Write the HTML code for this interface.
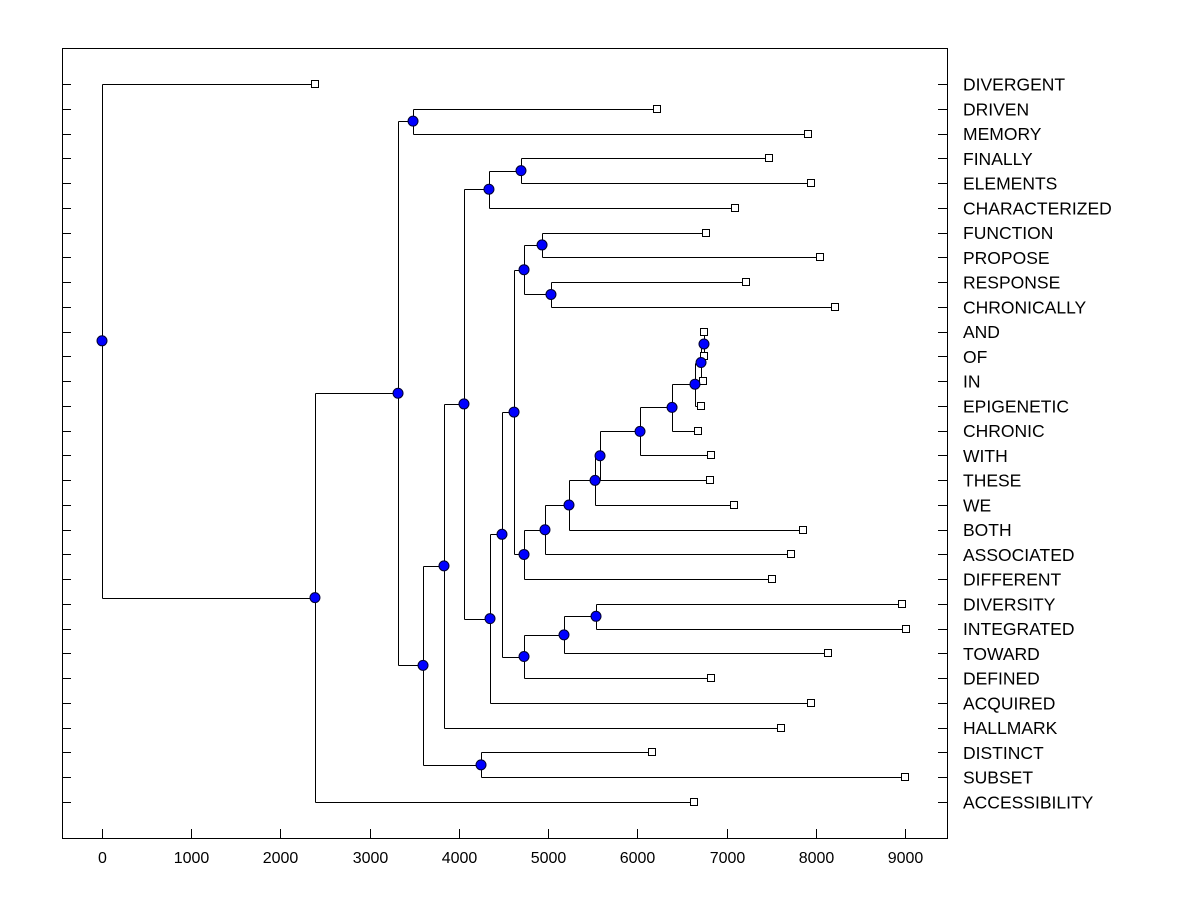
<!DOCTYPE html>
<html><head><meta charset="utf-8"><style>
html,body{margin:0;padding:0;background:#fff;}
svg{display:block;font-family:"Liberation Sans",sans-serif;}
</style></head><body>
<svg id="chart" width="1200" height="900" viewBox="0 0 1200 900">
<rect x="0" y="0" width="1200" height="900" fill="#fff"/>
<rect x="62.5" y="48.5" width="885" height="790" fill="none" stroke="#000" stroke-width="1"/>
<g id="ticks"></g>
<g id="links"></g>
<g id="marks"></g>
<g id="labels"></g>
</svg>
<script>
const leafLabels = ["DIVERGENT","DRIVEN","MEMORY","FINALLY","ELEMENTS","CHARACTERIZED","FUNCTION","PROPOSE","RESPONSE","CHRONICALLY","AND","OF","IN","EPIGENETIC","CHRONIC","WITH","THESE","WE","BOTH","ASSOCIATED","DIFFERENT","DIVERSITY","INTEGRATED","TOWARD","DEFINED","ACQUIRED","HALLMARK","DISTINCT","SUBSET","ACCESSIBILITY"];
const leafValues = [2387,6220,7913,7476,7946,7095,6770,8047,7218,8215,6747,6747,6736,6714,6680,6826,6814,7083,7857,7722,7509,8966,9011,8137,6826,7946,7610,6164,9000,6635];
const mergeLeft = [10,30,31,32,33,34,35,36,37,38,6,8,40,42,3,44,21,46,47,43,49,45,51,27,52,1,55,56,0];
const mergeRight = [11,12,13,14,15,16,17,18,19,20,7,9,41,39,4,5,22,23,24,48,25,50,26,28,53,2,54,29,57];
const mergeHeights = [6747,6714,6646,6389,6030,5582,5526,5234,4965,4730,4932,5032,4730,4618,4696,4337,5537,5178,4730,4483,4349,4057,3833,4248,3598,3486,3318,2387,0];
const xTicks = [0,1000,2000,3000,4000,5000,6000,7000,8000,9000];

const NS="http://www.w3.org/2000/svg";
const xScale = v => 102 + v*(803/9000);
const rowY = i => 84 + i*(718/29);
function mk(parent,tag,attrs){const e=document.createElementNS(NS,tag);for(const k in attrs)e.setAttribute(k,attrs[k]);parent.appendChild(e);return e;}
const gT=document.getElementById('ticks'),gL=document.getElementById('links'),gM=document.getElementById('marks'),gLab=document.getElementById('labels');

xTicks.forEach(t=>{
  const x=Math.round(xScale(t))+0.5;
  const l=mk(gT,'line',{x1:x,y1:829,x2:x,y2:838,stroke:'#000'});
  
  
  const tx=mk(gT,'text',{x:x,y:863,'text-anchor':'middle','font-size':'16',fill:'#000'});
  tx.textContent=t;
  
  
});
leafLabels.forEach((lab,i)=>{
  const y=Math.round(rowY(i))+0.5;
  const a=mk(gT,'line',{x1:62,y1:y,x2:71,y2:y,stroke:'#000'});
  
  
  const b=mk(gT,'line',{x1:938,y1:y,x2:947,y2:y,stroke:'#000'});
  
  
  const t=mk(gLab,'text',{x:963,y:rowY(i)+6.5,'font-size':'17.5',fill:'#000'});
  t.textContent=lab;
  
  
});

const N=leafLabels.length;
const nx=[],ny=[];
leafValues.forEach((v,i)=>{nx[i]=xScale(v);ny[i]=rowY(i);});
mergeHeights.forEach((h,k)=>{
  const a=mergeLeft[k],b=mergeRight[k],id=N+k;
  nx[id]=xScale(h);ny[id]=(ny[a]+ny[b])/2;
  const x=Math.round(nx[id])+0.5;
  const v=mk(gL,'line',{x1:x,y1:Math.round(ny[a])+0.5,x2:x,y2:Math.round(ny[b])+0.5,stroke:'#000'});
  
  
  [a,b].forEach(c=>{
    const y=Math.round(ny[c])+0.5;
    const hl=mk(gL,'line',{x1:x,y1:y,x2:nx[c],y2:y,stroke:'#000'});
    
    
  });
});
leafValues.forEach((v,i)=>{
  const r=mk(gM,'rect',{x:Math.round(nx[i])-3.5,y:Math.round(ny[i])-3.5,width:7,height:7,fill:'#fff',stroke:'#000'});
  
  
});
mergeHeights.forEach((h,k)=>{
  const id=N+k;
  const c=mk(gM,'circle',{cx:nx[id],cy:ny[id],r:5,fill:'#0000ff',stroke:'#000030','stroke-width':'1'});
  
  
});
</script>
</body></html>
